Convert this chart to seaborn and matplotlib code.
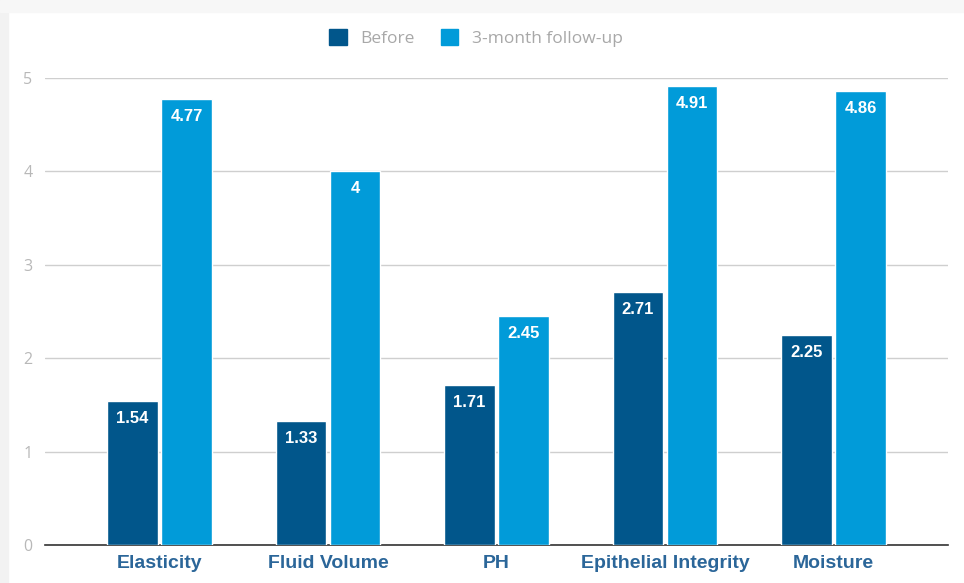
import matplotlib
matplotlib.use("Agg")
import matplotlib.pyplot as plt
import pandas as pd
import seaborn as sns
from matplotlib.patches import Rectangle

categories = ["Elasticity", "Fluid Volume", "PH", "Epithelial Integrity", "Moisture"]
before = [1.54, 1.33, 1.71, 2.71, 2.25]
followup = [4.77, 4.00, 2.45, 4.91, 4.86]
series = ["Before", "3-month follow-up"]
colors = ["#01568b", "#019bd9"]

df = pd.DataFrame({
    "category": categories * 2,
    "series": [series[0]] * len(categories) + [series[1]] * len(categories),
    "value": before + followup,
})

sns.set_theme(style="white")
plt.rcParams["font.family"] = ["Open Sans", "DejaVu Sans"]
bold_font = ["Liberation Sans", "DejaVu Sans"]

fig = plt.figure(figsize=(9.64, 5.83), dpi=100)
fig.patch.set_facecolor("white")
# light grey frame strips at left and top like the screenshot
fig.add_artist(Rectangle((0, 0), 8 / 964, 1, transform=fig.transFigure, color="#f2f2f2", zorder=0))
fig.add_artist(Rectangle((0, 1 - 12 / 583), 1, 12 / 583, transform=fig.transFigure, color="#f7f7f7", zorder=0))

ax = fig.add_axes([45 / 964, 38 / 583, 903 / 964, 467 / 583])
sns.barplot(data=df, x="category", y="value", hue="series", palette=colors,
            width=0.645, gap=0.07, saturation=1, ax=ax, legend=False, zorder=3)

for cont in ax.containers:
    labels = [f"{v:g}" for v in cont.datavalues]
    ax.bar_label(cont, labels=labels, label_type="edge", padding=-18,
                 color="white", fontsize=12, fontweight="bold", family=bold_font)

ax.set_xlim(-0.68, 4.68)
ax.set_ylim(0, 5)
ax.set_yticks([0, 1, 2, 3, 4, 5])
ax.yaxis.grid(True, color="#cfcfcf", linewidth=1)
ax.set_axisbelow(True)
for s in ["top", "right", "left"]:
    ax.spines[s].set_visible(False)
ax.spines["bottom"].set_color("#333333")
ax.spines["bottom"].set_linewidth(1.2)
ax.set_xlabel("")
ax.set_ylabel("")
ax.tick_params(axis="y", length=0, pad=9, labelsize=11.5, labelcolor="#b8b8b8")
ax.tick_params(axis="x", length=0, pad=7, labelsize=14, labelcolor="#2b6699")
for t in ax.get_xticklabels():
    t.set_fontweight("bold")
    t.set_family(bold_font)

handles = [Rectangle((0, 0), 1, 1, color=c) for c in colors]
fig.legend(handles, series, loc="center", bbox_to_anchor=(0.494, 1 - 38 / 583), ncol=2,
           frameon=False, fontsize=12.5, labelcolor="#a8a8a8", handlelength=1.0,
           handleheight=1.0, handletextpad=0.8, columnspacing=1.5)

fig.savefig("out.png", dpi=100, facecolor=fig.get_facecolor())
